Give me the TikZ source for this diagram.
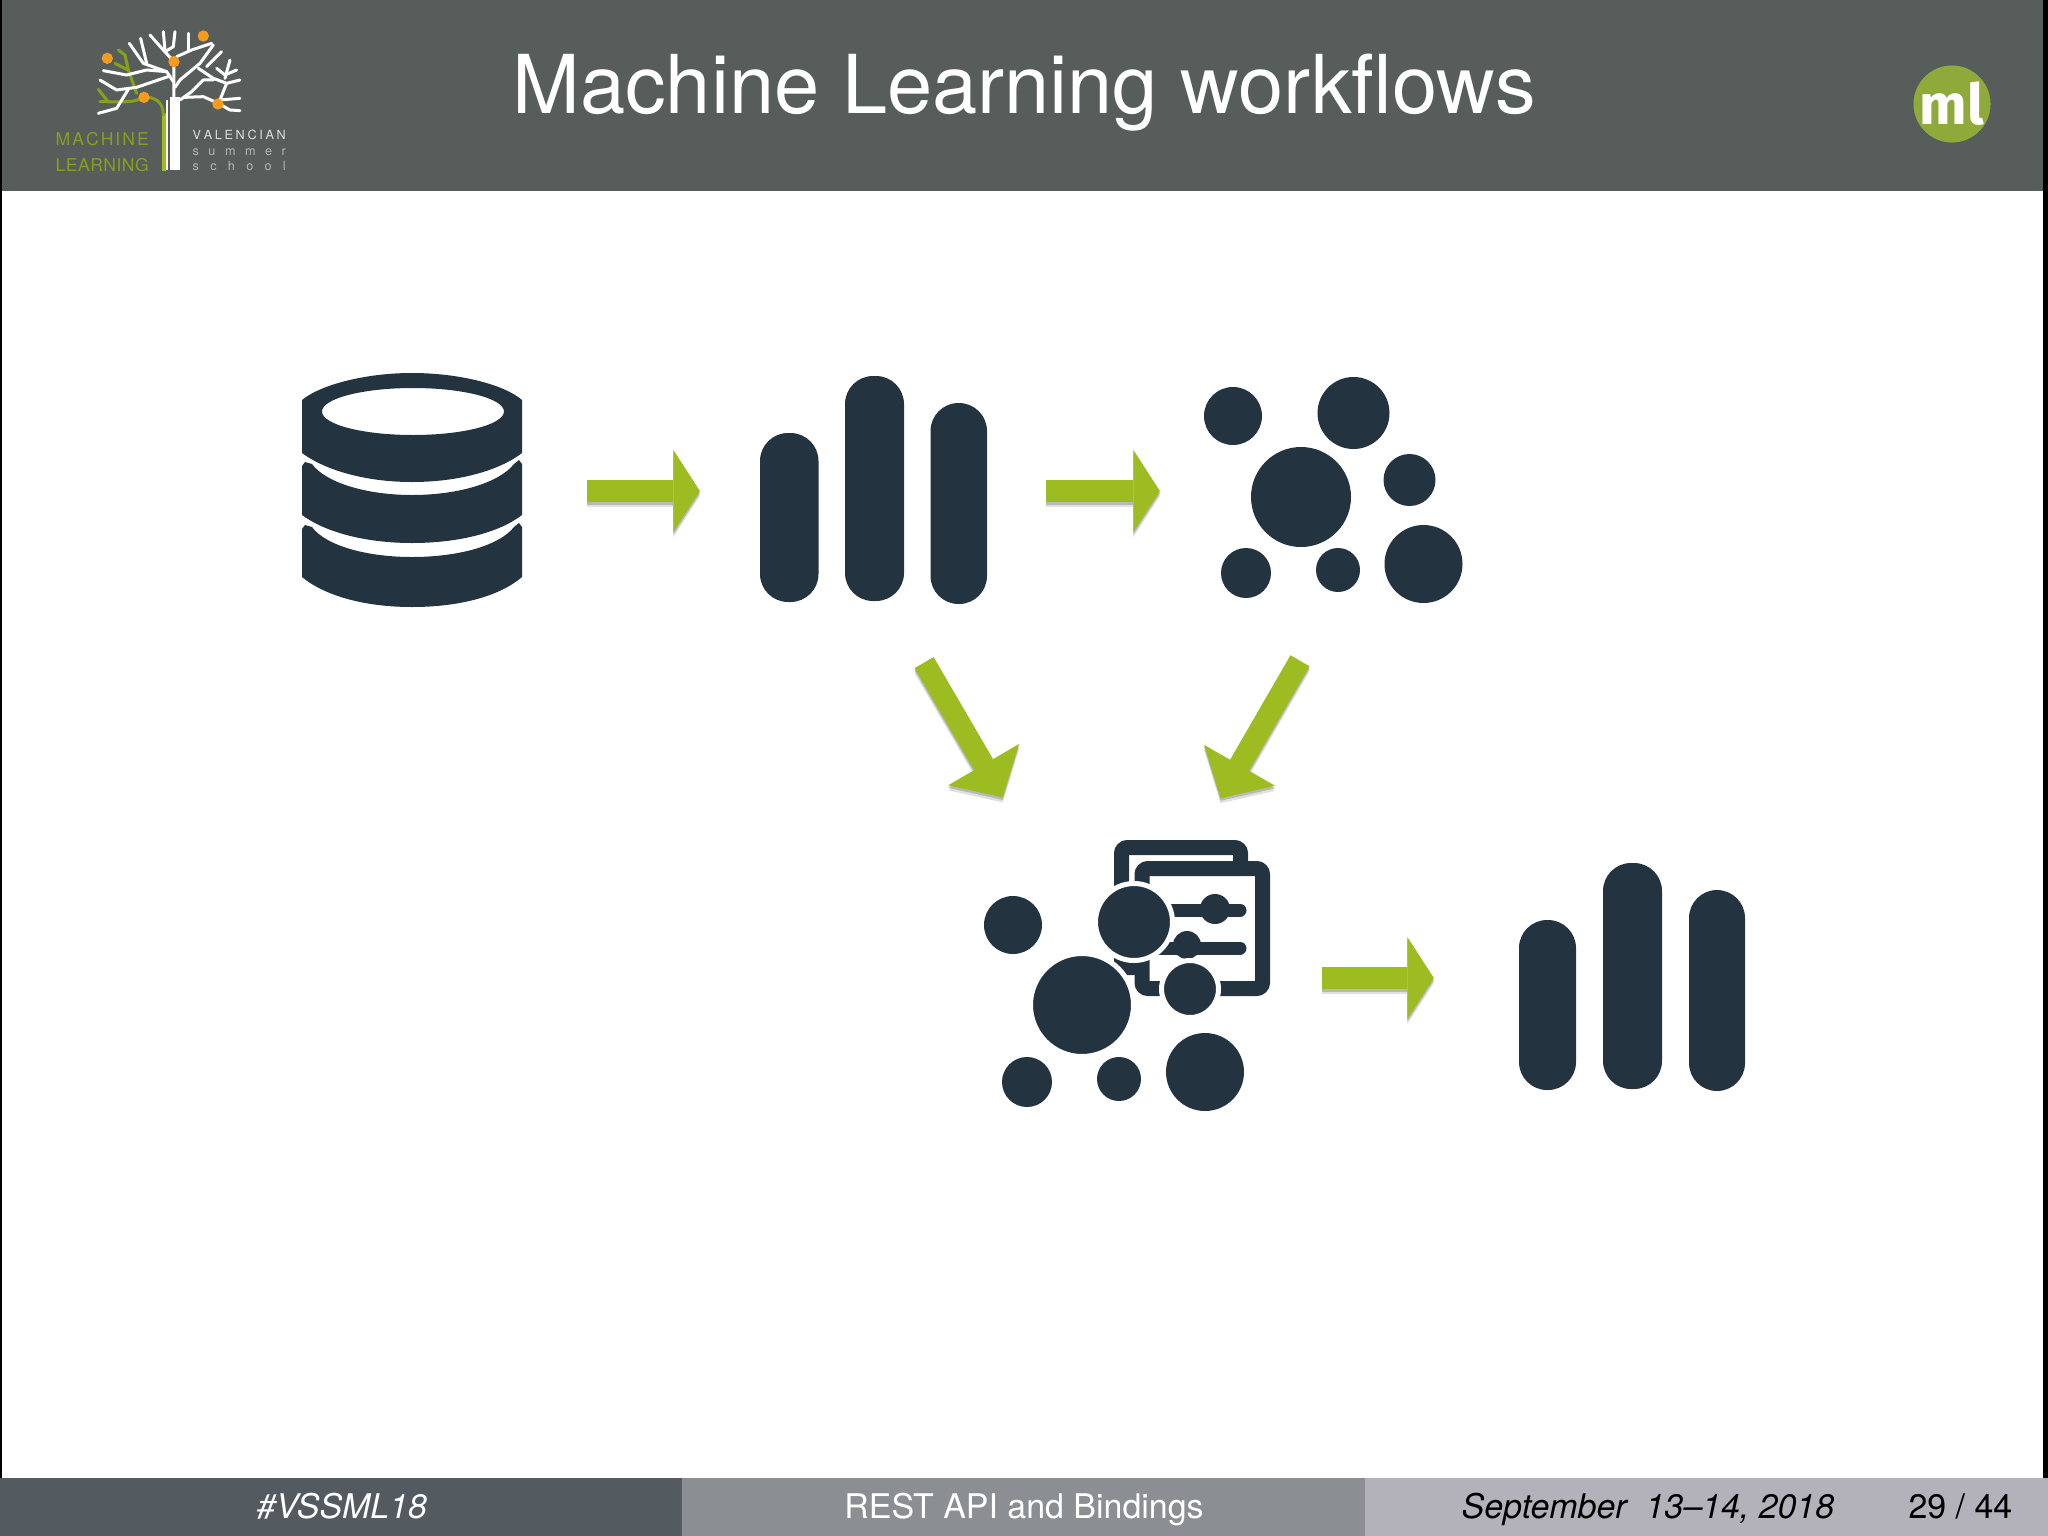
\documentclass[tikz,border=0pt]{standalone}
\usepackage{fontspec}
\setmainfont{TeX Gyre Heros}
\newfontfamily\badgefont{Fira Sans}
\usetikzlibrary{arrows.meta}
\definecolor{headgray}{HTML}{575D5B}
\definecolor{footdark}{HTML}{535A60}
\definecolor{footmid}{HTML}{8B8F94}
\definecolor{footlight}{HTML}{B3B2BA}
\definecolor{icondark}{HTML}{233440}
\definecolor{flowgreen}{HTML}{9DBC22}
\definecolor{fruit}{HTML}{F39C1F}
\definecolor{badge}{HTML}{8FA93A}
\tikzset{
  % one px of the reference is 0.01cm
  iconbox/.style n args={2}{inner sep=0pt,outer sep=0pt,minimum width=#1,minimum height=#2},
  bar/.style={fill=icondark,rounded corners=.28cm},
  blob/.style={fill=icondark},
  halo/.style={fill=icondark,draw=white,line width=.05cm},
  frontdoc/.style={draw=icondark,fill=white,line width=.15cm,rounded corners=.06cm},
  backdoc/.style={draw=icondark,line width=.15cm,rounded corners=.06cm},
  slider/.style={draw=icondark,line width=.13cm,line cap=round},
  flowbase/.style={line width=.22cm,-{Triangle[length=#1,width=.82cm,line width=0pt]}},
  flow/.style={flowbase=#1,draw=flowgreen,color=flowgreen},
  branch/.style={draw=white,line width=.03cm,line cap=round,line join=round},
  greenbranch/.style={draw=flowgreen!85!black,line width=.03cm,line cap=round,line join=round},
  foot/.style={font=\fontsize{9.65pt}{12pt}\selectfont,inner sep=0pt},
  logoword/.style={anchor=base west,inner sep=0pt,text width=.93cm,font=\fontsize{5pt}{6pt}\selectfont,text=flowgreen!85!black},
  logosmall/.style={anchor=base west,inner sep=0pt,text width=.93cm,font=\fontsize{3.6pt}{4pt}\selectfont,text=white!#1!headgray},
}
% green block arrow with its soft shadow under it
\newcommand{\flowline}[2]{
  \draw[flowbase=#1,draw=black!12,color=black!12,transform canvas={yshift=-.05cm}] #2;
  \draw[flowbase=#1,draw=black!28,color=black!28,transform canvas={yshift=-.025cm}] #2;
  \draw[flow=#1] #2;
}
\begin{document}
\begin{tikzpicture}[x=.01cm,y=-.01cm]
\useasboundingbox (0,0) rectangle (2048,1536);
\fill[white] (0,0) rectangle (2048,1536);
% header and footer
\fill[headgray] (0,0) rectangle (2048,191);
\fill[black] (0,0) rectangle (2,1478);
\fill[black] (2043,0) rectangle (2048,1478);
\fill[footdark] (0,1478) rectangle (682,1536);
\fill[footmid] (682,1478) rectangle (1365,1536);
\fill[footlight] (1365,1478) rectangle (2048,1536);
\node[text=white,font=\fontsize{23.1pt}{26pt}\selectfont,anchor=base,inner sep=0pt] (title) at (1024,113) {Machine Learning workflows};
\node[foot,text=white,anchor=base] (tag) at (342,1518) {\itshape \#VSSML18};
\node[foot,text=white,anchor=base] (talk) at (1024,1518) {REST API and Bindings};
\node[foot,text=black,anchor=base west] (date) at (1461,1518) {\itshape September\ \ 13–14, 2018};
\node[foot,text=black,anchor=base east] (page) at (2013,1518) {29 / 44};
% badge
\node[circle,fill=badge,minimum size=.77cm,inner sep=0pt] (ml) at (1952,104) {};
\node[text=white,inner sep=0pt,font=\badgefont\bfseries\fontsize{16pt}{16pt}\selectfont] (mltext) at (ml) {ml};
% school logo, coordinates read at 3x
\begin{scope}[scale=.3333]
  \fill[white] (498,300) rectangle (505,510);
  \fill[white] (510,290) rectangle (540,510);
  \fill[flowgreen] (487,340) rectangle (497,512);
  \draw[greenbranch] (490,345) .. controls (490,310) and (470,290) .. (432,292);
  \draw[greenbranch] (432,292) .. controls (400,310) and (360,305) .. (300,305);
  \draw[greenbranch] (295,268) -- (322,302);
  \draw[greenbranch] (410,280) -- (385,210) -- (345,190);
  \draw[greenbranch] (385,210) -- (375,165) -- (355,150);
  \foreach \pts in {
    {(522,300)--(522,185)--(490,150)--(450,105)},
    {(490,95)--(495,150)},
    {(525,95)--(520,140)--(495,155)},
    {(422,115)--(440,190)},
    {(388,130)--(430,190)--(500,215)--(520,245)},
    {(310,212)--(380,225)--(440,210)--(500,215)},
    {(300,240)--(350,270)--(410,262)--(510,228)},
    {(295,340)--(350,325)--(385,268)},
    {(565,100)--(565,150)},
    {(530,170)--(575,150)--(635,130)},
    {(640,135)--(600,190)--(540,240)--(525,262)},
    {(665,155)--(620,200)},
    {(595,205)--(640,235)--(680,250)--(720,240)},
    {(690,180)--(675,235)},
    {(650,205)--(675,225)--(710,210)},
    {(540,300)--(575,275)--(610,240)--(640,240)},
    {(555,292)--(610,290)--(655,310)--(690,330)--(720,332)},
    {(680,250)--(660,300)--(720,295)}}
    \draw[branch] \pts;
  \foreach \x/\y in {322/175,610/108,522/185,432/292,654/312}
    \fill[fruit] (\x,\y) circle (17);
\end{scope}
\node[logoword] (machine) at (55,145) {M\hfill A\hfill C\hfill H\hfill I\hfill N\hfill E};
\node[logoword] (learning) at (55,171) {L\hfill E\hfill A\hfill R\hfill N\hfill I\hfill N\hfill G};
\node[logosmall=80] (valencian) at (192,139) {V\hfill A\hfill L\hfill E\hfill N\hfill C\hfill I\hfill A\hfill N};
\node[logosmall=55] (summer) at (192,155) {s\hfill u\hfill m\hfill m\hfill e\hfill r};
\node[logosmall=55] (school) at (192,170) {s\hfill c\hfill h\hfill o\hfill o\hfill l};
% invisible boxes round the icons, the arrows run between them
\node[iconbox={2.2cm}{2.34cm}] (db) at (412,491) {};
\node[iconbox={2.27cm}{2.29cm}] (bars1) at (873.5,491) {};
\node[iconbox={2.6cm}{2.25cm}] (cluster) at (1333,491) {};
\node[iconbox={2.7cm}{2.71cm}] (model) at (1135,978) {};
\node[iconbox={2.26cm}{2.28cm}] (bars2) at (1632,978) {};
% database
\fill[icondark,even odd rule] (302,400) .. controls (320,385) and (365,373) .. (412,373) .. controls (460,373) and (505,385) .. (522,400) -- (522,453) .. controls (500,470) and (460,482) .. (412,482) .. controls (365,482) and (325,470) .. (302,453) -- cycle
  (413,411.5) ellipse (91 and 23.5);
\fill[icondark] (302,466) -- (305,462) -- (312,464) .. controls (325,482) and (365,495) .. (412,495) .. controls (460,495) and (500,482) .. (514,464) -- (519,460) -- (522,464) -- (522,515) .. controls (500,532) and (460,543) .. (412,543) .. controls (365,543) and (325,532) .. (302,515) -- cycle;
\fill[icondark] (302,529) -- (305,525) -- (312,527) .. controls (325,545) and (365,557) .. (412,557) .. controls (460,557) and (500,545) .. (514,527) -- (519,523) -- (522,527) -- (522,577) .. controls (500,596) and (460,607) .. (412,607) .. controls (365,607) and (325,596) .. (302,577) -- cycle;
% first bars
\foreach \l/\r/\t/\b in {760/818.5/433/602,845/904/376/601,930.5/987/403/604}
  \fill[bar] (\l,\t) rectangle (\r,\b);
% clusters
\foreach \x/\y/\r in {1233/416/29,1353.5/413/36,1301/497/50,1409.5/480/26,1423.5/564/39,1246/573/25,1338/570/22}
  \fill[blob] (\x,\y) circle (\r);
% model, documents behind its clusters
\draw[backdoc] (1121.5,847.5) rectangle (1240.5,967.5);
\draw[frontdoc] (1142,868.5) rectangle (1262.5,988.5);
\draw[slider] (1160,910) -- (1240,910);
\fill[blob] (1215,909) circle (15);
\draw[slider] (1160,948) -- (1240,948);
\fill[blob] (1187,945) circle (14);
\foreach \x/\y/\r in {1134/922/36,1082/1005/49,1190/989/26}
  \draw[halo] (\x,\y) circle ({\r+2.5});
\foreach \x/\y/\r in {1013/925/29,1205/1072/39,1027/1082/25,1119/1079/22}
  \fill[blob] (\x,\y) circle (\r);
% last bars
\foreach \l/\r/\t/\b in {1519/1576/920/1090,1603/1662/863/1089,1689/1745/890/1091}
  \fill[bar] (\l,\t) rectangle (\r,\b);
% arrows
\flowline{.265cm}{[shorten <=.65cm,shorten >=.6cm] (db) -- (bars1)}
\flowline{.265cm}{[shorten <=.59cm,shorten >=.43cm] (bars1) -- (cluster)}
\flowline{.265cm}{[shorten <=.52cm,shorten >=.85cm] (model) -- (bars2)}
\flowline{.38cm}{[shorten <=.66cm,shorten >=.52cm] ([xshift=.173cm]bars1.south) -- ([xshift=-1.06cm]model.north)}
\flowline{.38cm}{[shorten <=.66cm,shorten >=.51cm] (cluster.south) -- ([xshift=.6cm]model.north)}
\end{tikzpicture}
\end{document}
